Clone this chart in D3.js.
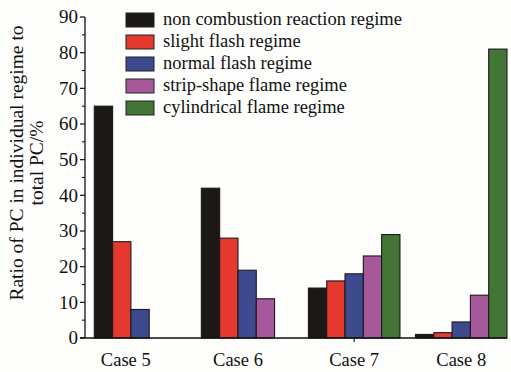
<!DOCTYPE html>
<html>
<head>
<meta charset="utf-8">
<script src="https://cdn.jsdelivr.net/npm/d3@7"></script>
<style>
  html, body { margin: 0; padding: 0; background: #fdfdfc; }
  svg { display: block; }
  text { font-family: "Liberation Serif", "Times New Roman", serif; fill: #111; }
</style>
</head>
<body>
<svg id="chart" width="511" height="372"></svg>
<script>
// Cases and regimes
const cases = ["Case 5", "Case 6", "Case 7", "Case 8"];
const regimes = [
  "non combustion reaction regime",
  "slight flash regime",
  "normal flash regime",
  "strip-shape flame regime",
  "cylindrical flame regime"
];
const regimeColors = ["#1b1816", "#e5392f", "#3e4a8e", "#a5599b", "#437636"];

// Ratio of PC (%) per regime, one array per case (null = regime absent)
const case5 = [65, 27, 8, null, null];
const case6 = [42, 28, 19, 11, null];
const case7 = [14, 16, 18, 23, 29];
const case8 = [1, 1.5, 4.5, 12, 81];
const seriesByCase = [case5, case6, case7, case8];

const yTicks = [0, 10, 20, 30, 40, 50, 60, 70, 80, 90];

const svg = d3.select("#chart");
const fontSize = 18.5;

const x0 = d3.scaleBand().domain(cases).range([94.3, 507]).paddingInner(0.145).paddingOuter(0);
const x1 = d3.scaleBand().domain(regimes).range([0, x0.bandwidth()]).padding(0);
const y = d3.scaleLinear().domain([0, 90]).range([338, 17]);

// Bars
cases.forEach((c, ci) => {
  const vals = seriesByCase[ci];
  const g = svg.append("g").attr("transform", `translate(${x0(c)},0)`);
  g.selectAll("rect")
    .data(regimes.map((r, ri) => ({ r, ri, v: vals[ri] })).filter(d => d.v != null))
    .join("rect")
    .attr("x", d => x1(d.r))
    .attr("y", d => y(d.v))
    .attr("width", x1.bandwidth())
    .attr("height", d => y(0) - y(d.v))
    .attr("fill", d => regimeColors[d.ri])
    .attr("stroke", "#1a1a1a")
    .attr("stroke-width", 1.1);
});

// Y axis with major and minor ticks
const yAxis = svg.append("g").attr("transform", "translate(85,0)");
yAxis.append("line").attr("x1", 0).attr("x2", 0).attr("y1", y(90)).attr("y2", y(0))
  .attr("stroke", "#111").attr("stroke-width", 1.3);
yAxis.selectAll("line.major").data(yTicks).join("line").attr("class", "major")
  .attr("x1", -5).attr("x2", 0).attr("y1", d => y(d)).attr("y2", d => y(d))
  .attr("stroke", "#111").attr("stroke-width", 1.2);
yAxis.selectAll("line.minor").data(d3.range(5, 90, 10)).join("line").attr("class", "minor")
  .attr("x1", -3).attr("x2", 0).attr("y1", d => y(d)).attr("y2", d => y(d))
  .attr("stroke", "#111").attr("stroke-width", 1.1);
yAxis.selectAll("text").data(yTicks).join("text")
  .attr("x", -7).attr("y", d => y(d)).attr("dy", "0.34em")
  .attr("text-anchor", "end").style("font-size", "19px")
  .text(d => d);

// X axis baseline
svg.append("line").attr("x1", 80).attr("x2", 507).attr("y1", y(0)).attr("y2", y(0))
  .attr("stroke", "#111").attr("stroke-width", 1.3);
svg.append("line")
  .attr("x1", x0("Case 7") + x0.bandwidth() / 2).attr("x2", x0("Case 7") + x0.bandwidth() / 2)
  .attr("y1", y(0)).attr("y2", y(0) + 4)
  .attr("stroke", "#111").attr("stroke-width", 1.1);

// Case labels centred under the bars each case has
svg.selectAll("text.case").data(cases).join("text").attr("class", "case")
  .attr("x", (c, ci) => {
    const n = seriesByCase[ci].filter(v => v != null).length;
    return x0(c) + n * x1.bandwidth() / 2 + (ci === 0 ? 4 : 0);
  })
  .attr("y", 366)
  .attr("text-anchor", "middle").style("font-size", fontSize + "px")
  .text(c => c);

// Y axis title
const yTitle = svg.append("text")
  .attr("transform", "translate(23,163) rotate(-90)")
  .attr("text-anchor", "middle").style("font-size", "19.5px");
yTitle.append("tspan").attr("x", 0).attr("y", 0).text("Ratio of PC in individual regime to");
yTitle.append("tspan").attr("x", 0).attr("y", 20).text("total PC/%");

// Legend
const legend = svg.append("g").attr("transform", "translate(126,13)");
const rows = legend.selectAll("g").data(regimes).join("g")
  .attr("transform", (d, i) => `translate(0,${i * 22})`);
rows.append("rect").attr("width", 28).attr("height", 14)
  .attr("fill", (d, i) => regimeColors[i]).attr("stroke", "#222").attr("stroke-width", 1);
rows.append("text").attr("x", 37).attr("y", 7).attr("dy", "0.29em")
  .style("font-size", fontSize + "px").text(d => d);
</script>
</body>
</html>
